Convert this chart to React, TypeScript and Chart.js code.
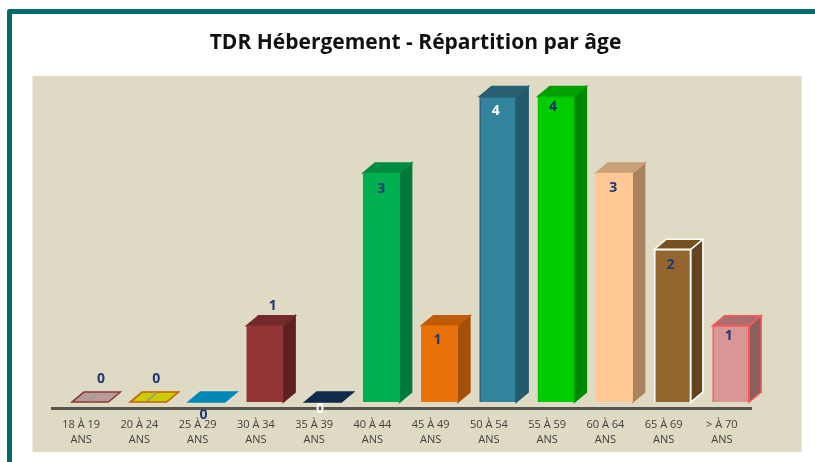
import React, { useEffect, useRef } from "react";
import { Chart, registerables } from "chart.js";

Chart.register(...registerables);

const categories = [
  ["18 À 19", "ANS"], ["20 À 24", "ANS"], ["25 À 29", "ANS"], ["30 À 34", "ANS"],
  ["35 À 39", "ANS"], ["40 À 44", "ANS"], ["45 À 49", "ANS"], ["50 À 54", "ANS"],
  ["55 À 59", "ANS"], ["60 À 64", "ANS"], ["65 À 69", "ANS"], ["> À 70", "ANS"],
];
const counts = [0, 0, 0, 1, 0, 3, 1, 4, 4, 3, 2, 1];
const fills = ["#b89a9a", "#cccc00", "#0088bb", "#943434", "#0f2a4a", "#00b050", "#e8710a", "#31849b", "#00cc00", "#ffc895", "#956530", "#d99694"];
const edges = ["#8a3a3a", "#c06000", "#0088bb", "#943434", "#0f2a4a", "#00b050", "#e8710a", "#2a5f7a", "#00c000", "#ffc895", "#ffffff", "#ff5555"];
const sides = ["#8a6f6f", "#999900", "#006688", "#5e2020", "#0a1c33", "#007a38", "#a34f07", "#215a6b", "#008800", "#a98260", "#634320", "#8c5f5e"];
const tops = ["#b89a9a", "#cccc00", "#0088bb", "#742a2a", "#0f2a4a", "#008c40", "#c05c08", "#285f72", "#00a000", "#c9a077", "#76501f", "#a86f6e"];
const labelColors = ["#1f3a73", "#1f3a73", "#1f3a73", "#1f3a73", "#ffffff", "#1f3a73", "#1f3a73", "#ffffff", "#0f2f66", "#1f3a73", "#1f3a73", "#1f3a73"];
const labelDx = [11, 8, -3, 8, -3, 0, -2, -2, -3, -1, -2, -2];
const labelDy = [-23, -23, 13, -20, 7, 16, 14, 15, 11, 15, 16, 10];

const SHIFT_X = 9;
const SHIFT_Y = -6;
const DEPTH_X = 12;
const DEPTH_Y = 10;
const TITLE_SHIFT = 14;

const poly = (ctx: CanvasRenderingContext2D, pts: number[][], fill: string, stroke: string) => {
  ctx.beginPath();
  pts.forEach(([x, y], i) => (i ? ctx.lineTo(x, y) : ctx.moveTo(x, y)));
  ctx.closePath();
  ctx.fillStyle = fill;
  ctx.fill();
  ctx.strokeStyle = stroke;
  ctx.lineWidth = 1.5;
  ctx.stroke();
};

const scenery = {
  id: "scenery",
  afterLayout(chart: any) {
    if (chart.titleBlock) {
      chart.titleBlock.left += TITLE_SHIFT;
      chart.titleBlock.right += TITLE_SHIFT;
    }
  },
  beforeDraw(chart: any) {
    const ctx = chart.ctx as CanvasRenderingContext2D;
    ctx.save();
    ctx.fillStyle = "#ffffff";
    ctx.fillRect(0, 0, chart.width, chart.height);
    ctx.fillStyle = "#dedac4";
    ctx.fillRect(32.5, 76, 769, 376);
    ctx.strokeStyle = "#006b68";
    ctx.lineWidth = 5;
    ctx.lineJoin = "round";
    ctx.beginPath();
    ctx.moveTo(9.5, 462);
    ctx.lineTo(9.5, 11.5);
    ctx.lineTo(815, 11.5);
    ctx.stroke();
    ctx.restore();
  },
  beforeDatasetsDraw(chart: any) {
    const ctx = chart.ctx as CanvasRenderingContext2D;
    const bars = chart.getDatasetMeta(0).data;
    ctx.save();
    ctx.translate(SHIFT_X, SHIFT_Y);
    bars.forEach((bar: any, i: number) => {
      const l = bar.x - bar.width / 2;
      const r = bar.x + bar.width / 2;
      const t = bar.y;
      const b = bar.base;
      const flat = counts[i] === 0;
      if (!flat) {
        poly(ctx, [[r, t], [r + DEPTH_X, t - DEPTH_Y], [r + DEPTH_X, b - DEPTH_Y], [r, b]], sides[i], i === 10 || i === 11 ? edges[i] : sides[i]);
      }
      poly(ctx, [[l, t], [r, t], [r + DEPTH_X, t - DEPTH_Y], [l + DEPTH_X, t - DEPTH_Y]], tops[i], i === 10 || i === 11 || flat ? edges[i] : tops[i]);
      if (flat && i < 2) {
        ctx.beginPath();
        ctx.moveTo(bar.x - 2, t - 1);
        ctx.lineTo(bar.x + DEPTH_X - 4, t - DEPTH_Y + 1);
        ctx.strokeStyle = "#9a9a90";
        ctx.lineWidth = 1.5;
        ctx.stroke();
      }
    });
    ctx.restore();
  },
  beforeDatasetDraw(chart: any) {
    chart.ctx.save();
    chart.ctx.translate(SHIFT_X, SHIFT_Y);
  },
  afterDatasetDraw(chart: any) {
    chart.ctx.restore();
  },
  afterDatasetsDraw(chart: any) {
    const ctx = chart.ctx as CanvasRenderingContext2D;
    const bars = chart.getDatasetMeta(0).data;
    ctx.save();
    ctx.font = "bold 14px 'Open Sans', sans-serif";
    ctx.textAlign = "center";
    ctx.textBaseline = "middle";
    bars.forEach((bar: any, i: number) => {
      ctx.fillStyle = labelColors[i];
      ctx.fillText(String(counts[i]), bar.x + SHIFT_X + labelDx[i], bar.y + SHIFT_Y + labelDy[i]);
    });
    ctx.restore();
  },
};

export default function App() {
  const ref = useRef<HTMLCanvasElement>(null);
  useEffect(() => {
    const chart = new Chart(ref.current!, {
      type: "bar",
      data: {
        labels: categories as any,
        datasets: [{
          data: counts,
          backgroundColor: fills,
          borderColor: edges,
          borderWidth: 1.5,
          barThickness: 36.5,
          clip: false as any,
        }],
      },
      options: {
        responsive: false,
        animation: false,
        layout: { padding: { left: 52, right: 64, top: 0, bottom: 14 } },
        plugins: {
          legend: { display: false },
          tooltip: { enabled: false },
          title: {
            display: true,
            text: "TDR Hébergement - Répartition par âge",
            color: "#111111",
            font: { family: "'Open Sans', sans-serif", size: 21, weight: "bold" },
            padding: { top: 30, bottom: 32 },
          },
        },
        scales: {
          x: {
            grid: { display: false },
            border: { display: true, color: "#55554d", width: 3 },
            ticks: {
              color: "#404040",
              font: { family: "'Open Sans', sans-serif", size: 11, lineHeight: 1.36 },
              maxRotation: 0,
              autoSkip: false,
              padding: 1,
            },
          },
          y: { display: false, min: 0, max: 4.2 },
        },
      },
      plugins: [scenery],
    });
    return () => chart.destroy();
  }, []);
  return (
    <canvas
      ref={ref}
      width={815}
      height={462}
      style={{ position: "fixed", left: 0, top: 0, width: 815, height: 462, display: "block" }}
    />
  );
}
